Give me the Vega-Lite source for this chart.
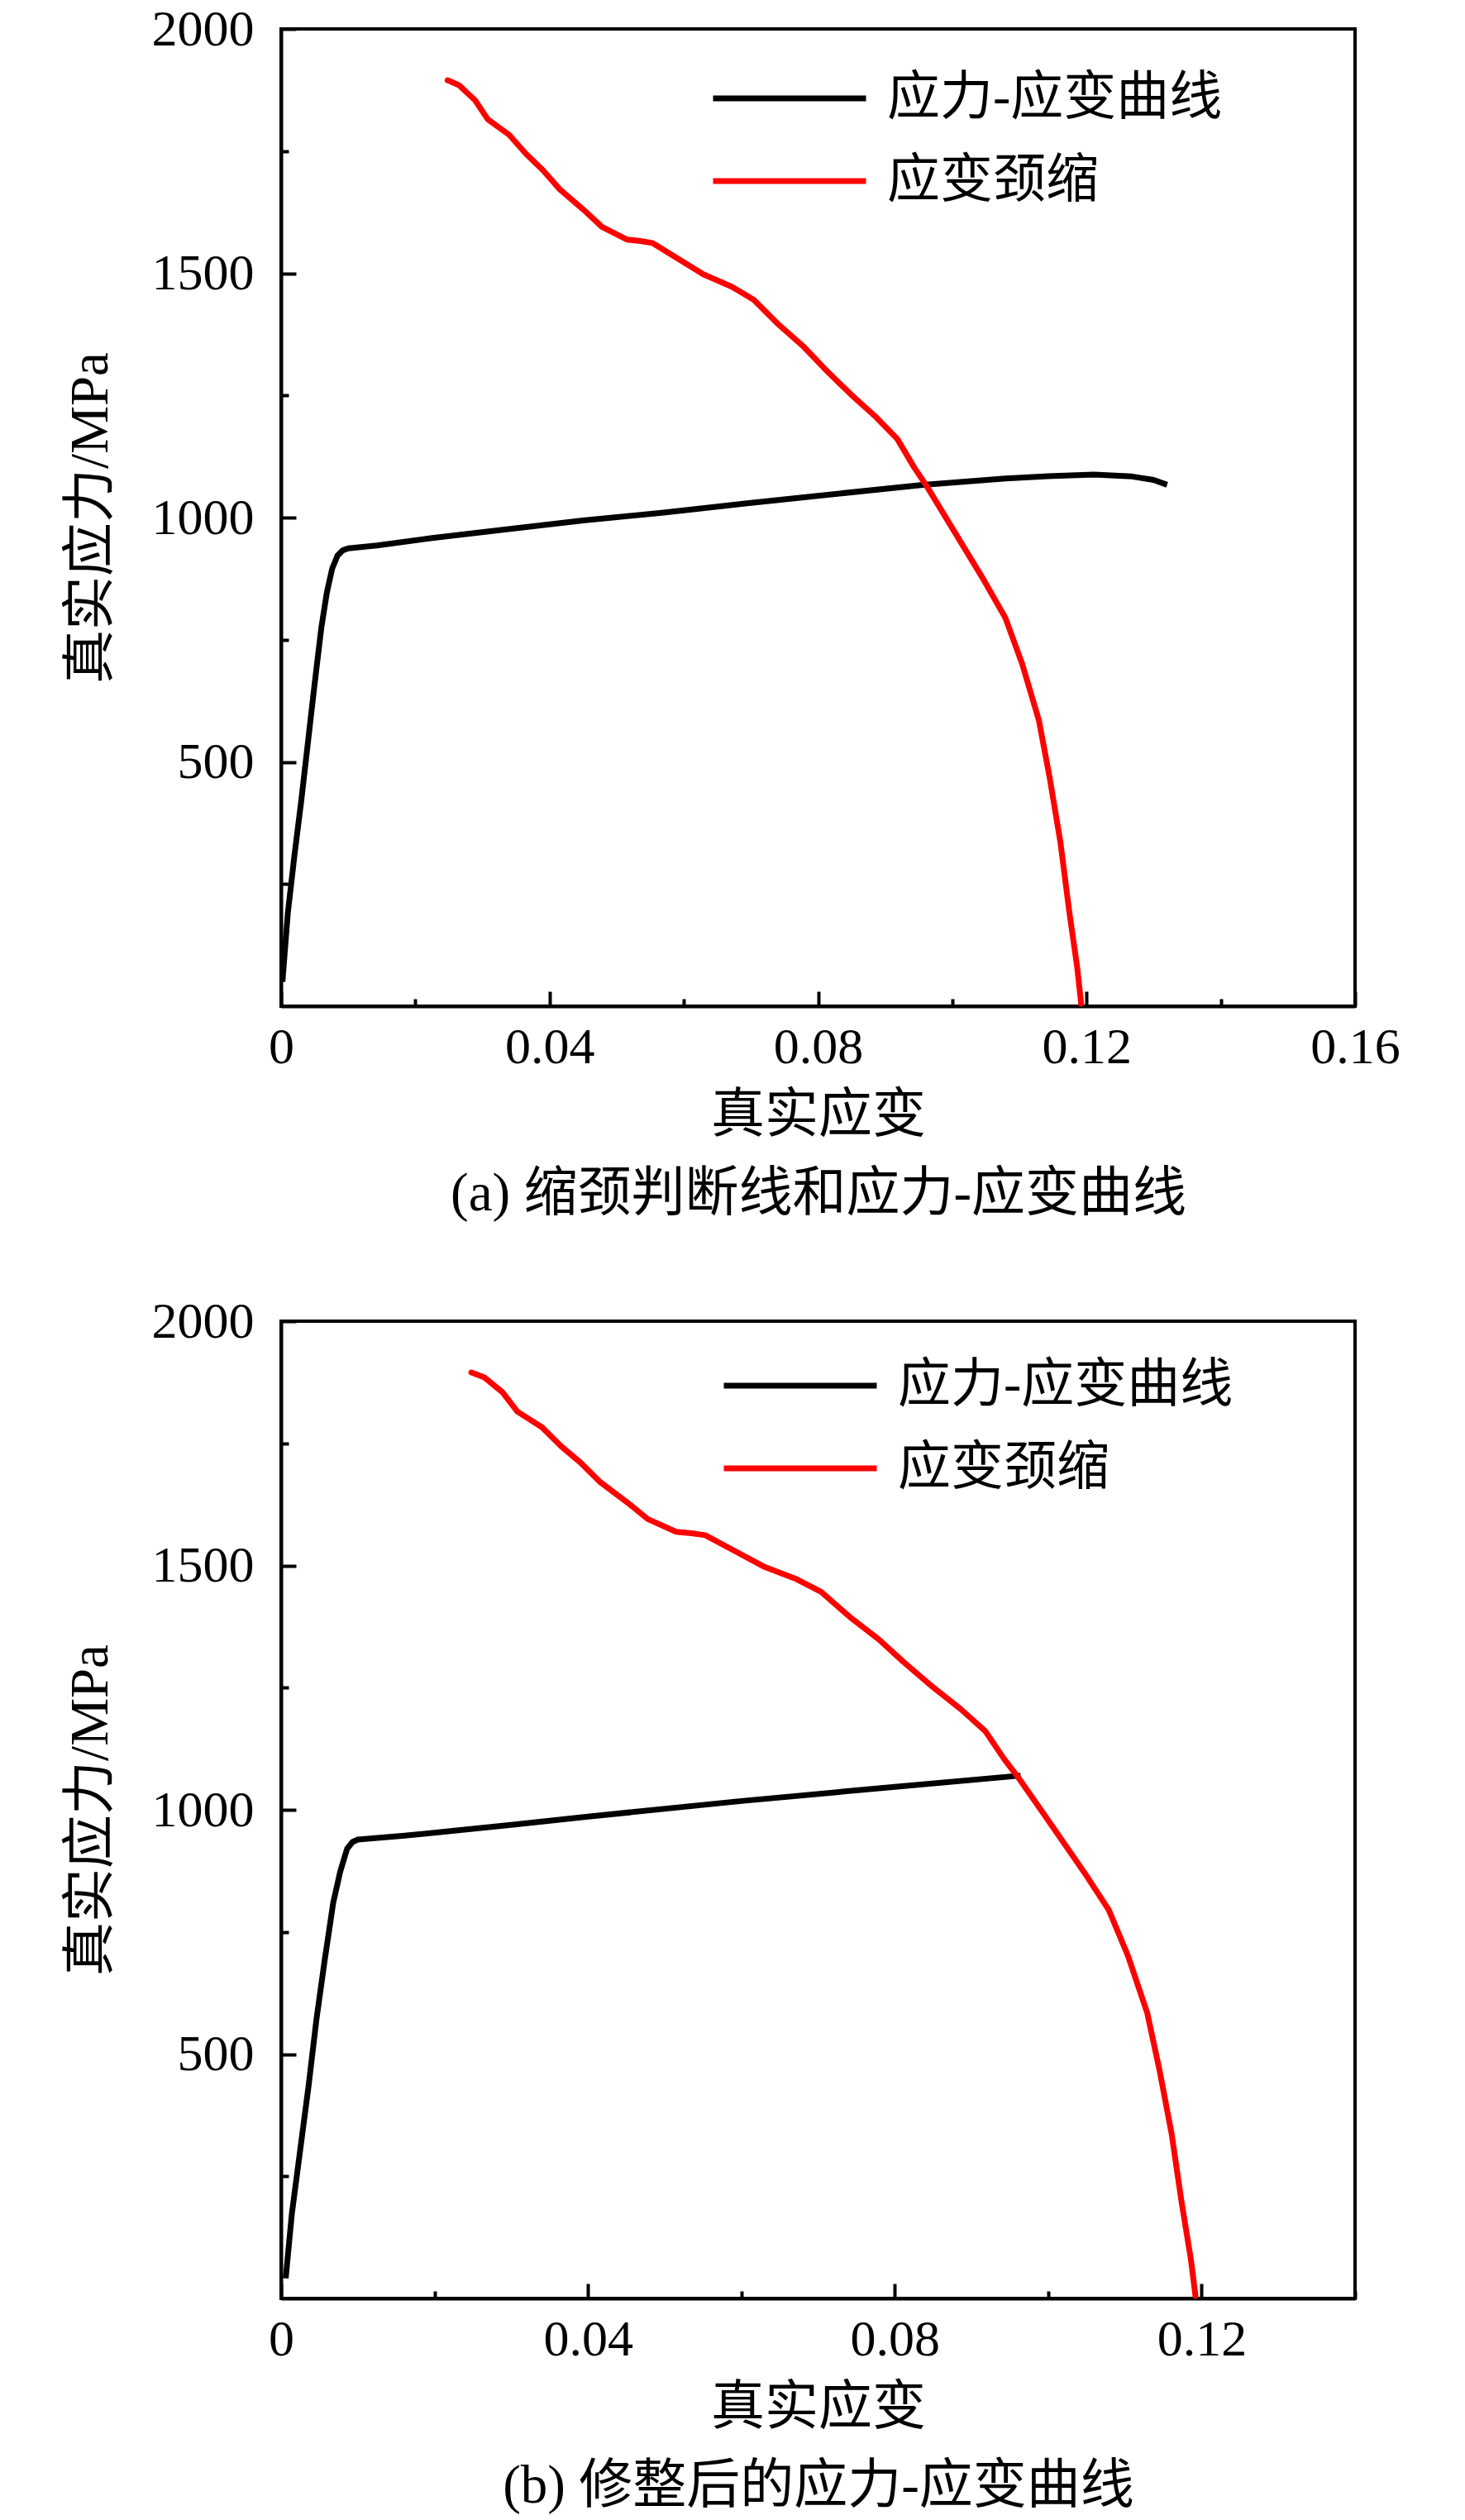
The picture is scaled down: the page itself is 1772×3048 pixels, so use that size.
{
  "$schema": "https://vega.github.io/schema/vega-lite/v6.json",
  "background": "white",
  "padding": {"left": 75, "top": 2, "right": 10, "bottom": 5},
  "spacing": 87,
  "datasets": {
    "a_black": [
      {"x": 0.0002, "y": 50}, {"x": 0.001, "y": 190}, {"x": 0.002, "y": 310}, {"x": 0.003, "y": 420},
      {"x": 0.004, "y": 540}, {"x": 0.005, "y": 660}, {"x": 0.006, "y": 775}, {"x": 0.0068, "y": 845},
      {"x": 0.0076, "y": 895}, {"x": 0.0084, "y": 922}, {"x": 0.0092, "y": 933}, {"x": 0.01, "y": 937},
      {"x": 0.0143, "y": 943}, {"x": 0.0225, "y": 958}, {"x": 0.0349, "y": 978}, {"x": 0.045, "y": 994},
      {"x": 0.057, "y": 1010}, {"x": 0.07, "y": 1030}, {"x": 0.0817, "y": 1047}, {"x": 0.0956, "y": 1067},
      {"x": 0.1079, "y": 1080}, {"x": 0.115, "y": 1085}, {"x": 0.1211, "y": 1088}, {"x": 0.1268, "y": 1084},
      {"x": 0.13, "y": 1077}, {"x": 0.132, "y": 1067}
    ],
    "b_black": [
      {"x": 0.0006, "y": 41}, {"x": 0.0014, "y": 173}, {"x": 0.0025, "y": 305}, {"x": 0.0036, "y": 437},
      {"x": 0.0046, "y": 570}, {"x": 0.0057, "y": 694}, {"x": 0.0068, "y": 810}, {"x": 0.0077, "y": 873},
      {"x": 0.0086, "y": 920}, {"x": 0.0093, "y": 934}, {"x": 0.01, "y": 939}, {"x": 0.0161, "y": 947},
      {"x": 0.0305, "y": 970}, {"x": 0.04, "y": 986}, {"x": 0.06, "y": 1018}, {"x": 0.08, "y": 1047},
      {"x": 0.0964, "y": 1070}
    ],
    "red": [
      {"x": 0.0248, "y": 1895}, {"x": 0.0265, "y": 1885}, {"x": 0.0289, "y": 1854}, {"x": 0.0308, "y": 1815},
      {"x": 0.034, "y": 1783}, {"x": 0.0365, "y": 1744}, {"x": 0.039, "y": 1711}, {"x": 0.0415, "y": 1672},
      {"x": 0.0453, "y": 1627}, {"x": 0.0478, "y": 1595}, {"x": 0.0515, "y": 1569}, {"x": 0.0535, "y": 1566},
      {"x": 0.0553, "y": 1562}, {"x": 0.0591, "y": 1530}, {"x": 0.0629, "y": 1498}, {"x": 0.0672, "y": 1472},
      {"x": 0.0704, "y": 1446}, {"x": 0.0742, "y": 1394}, {"x": 0.0779, "y": 1349}, {"x": 0.0811, "y": 1303},
      {"x": 0.0849, "y": 1252}, {"x": 0.0886, "y": 1206}, {"x": 0.0918, "y": 1161}, {"x": 0.0943, "y": 1103},
      {"x": 0.0962, "y": 1064}, {"x": 0.0997, "y": 985}, {"x": 0.1047, "y": 872}, {"x": 0.1079, "y": 795},
      {"x": 0.1104, "y": 701}, {"x": 0.1129, "y": 585}, {"x": 0.1145, "y": 468}, {"x": 0.1161, "y": 336},
      {"x": 0.1174, "y": 196}, {"x": 0.1186, "y": 80}, {"x": 0.1192, "y": 5}
    ]
  },
  "vconcat": [
    {
      "width": 1299,
      "height": 1182,
      "encoding": {
        "x": {
          "field": "x", "type": "quantitative",
          "scale": {"domain": [0, 0.16], "nice": false, "zero": false},
          "axis": {
            "values": [0, 0.02, 0.04, 0.06, 0.08, 0.1, 0.12, 0.14, 0.16],
            "labelExpr": "round(datum.value*100) % 4 != 0 ? '' : (datum.value == 0 ? '0' : format(datum.value, '.2f'))",
            "tickSize": {"condition": {"test": "round(datum.value*100) % 4 != 0", "value": -9}, "value": -18},
            "title": ["真实应变", "(a) 缩颈判断线和应力-应变曲线"]
          }
        },
        "y": {
          "field": "y", "type": "quantitative",
          "scale": {"domain": [0, 2000], "nice": false},
          "axis": {
            "values": [250, 500, 750, 1000, 1250, 1500, 1750, 2000],
            "labelExpr": "datum.value % 500 == 0 ? '' + datum.value : ''",
            "tickSize": {"condition": {"test": "datum.value % 500 != 0", "value": -9}, "value": -18},
            "title": "真实应力/MPa"
          }
        }
      },
      "layer": [
        {
          "data": {"name": "a_black"},
          "mark": {"type": "line", "strokeWidth": 7, "strokeJoin": "round"},
          "encoding": {
            "color": {
              "datum": "应力-应变曲线",
              "scale": {"domain": ["应力-应变曲线", "应变颈缩"], "range": ["#000000", "#ff0000"]},
              "legend": {"orient": "none", "legendX": 519, "legendY": 54, "title": null}
            }
          }
        },
        {
          "data": {"name": "red"},
          "mark": {"type": "line", "strokeWidth": 7, "strokeJoin": "round", "strokeCap": "round"},
          "encoding": {"color": {"datum": "应变颈缩"}}
        }
      ]
    },
    {
      "width": 1299,
      "height": 1182,
      "encoding": {
        "x": {
          "field": "x", "type": "quantitative",
          "scale": {"domain": [0, 0.14], "nice": false, "zero": false},
          "axis": {
            "values": [0, 0.02, 0.04, 0.06, 0.08, 0.1, 0.12, 0.14],
            "labelExpr": "round(datum.value*100) % 4 != 0 ? '' : (datum.value == 0 ? '0' : format(datum.value, '.2f'))",
            "tickSize": {"condition": {"test": "round(datum.value*100) % 4 != 0", "value": -9}, "value": -18},
            "title": ["真实应变", "(b) 修整后的应力-应变曲线"]
          }
        },
        "y": {
          "field": "y", "type": "quantitative",
          "scale": {"domain": [0, 2000], "nice": false},
          "axis": {
            "values": [250, 500, 750, 1000, 1250, 1500, 1750, 2000],
            "labelExpr": "datum.value % 500 == 0 ? '' + datum.value : ''",
            "tickSize": {"condition": {"test": "datum.value % 500 != 0", "value": -9}, "value": -18},
            "title": "真实应力/MPa"
          }
        }
      },
      "layer": [
        {
          "data": {"name": "b_black"},
          "mark": {"type": "line", "strokeWidth": 7, "strokeJoin": "round"},
          "encoding": {
            "color": {
              "datum": "应力-应变曲线",
              "scale": {"domain": ["应力-应变曲线", "应变颈缩"], "range": ["#000000", "#ff0000"]},
              "legend": {"orient": "none", "legendX": 532, "legendY": 48, "title": null}
            }
          }
        },
        {
          "data": {"name": "red"},
          "mark": {"type": "line", "strokeWidth": 7, "strokeJoin": "round", "strokeCap": "round"},
          "encoding": {"color": {"datum": "应变颈缩"}}
        }
      ]
    }
  ],
  "resolve": {"scale": {"color": "independent", "x": "independent", "y": "independent"}},
  "config": {
    "view": {"stroke": "#000000", "strokeWidth": 4},
    "axis": {
      "grid": false,
      "domainColor": "#000000",
      "domainWidth": 4,
      "tickColor": "#000000",
      "tickWidth": 4,
      "labelFont": "Liberation Serif, Noto Sans CJK SC",
      "labelFontSize": 62,
      "labelColor": "#000000",
      "labelFlush": false,
      "labelOverlap": false,
      "titleFont": "Liberation Serif, Noto Sans CJK SC",
      "titleFontSize": 65,
      "titleFontWeight": "normal",
      "titleColor": "#000000",
      "titleLineHeight": 95
    },
    "axisX": {"labelPadding": 37, "titlePadding": 11},
    "axisY": {"labelPadding": 51, "titlePadding": 40},
    "legend": {
      "symbolType": "stroke",
      "symbolSize": 34225,
      "symbolStrokeWidth": 7,
      "clipHeight": 60,
      "rowPadding": 36,
      "labelOffset": 22,
      "labelLimit": 1000,
      "labelFont": "Liberation Serif, Noto Sans CJK SC",
      "labelFontSize": 64,
      "labelColor": "#000000",
      "padding": 0
    }
  }
}
